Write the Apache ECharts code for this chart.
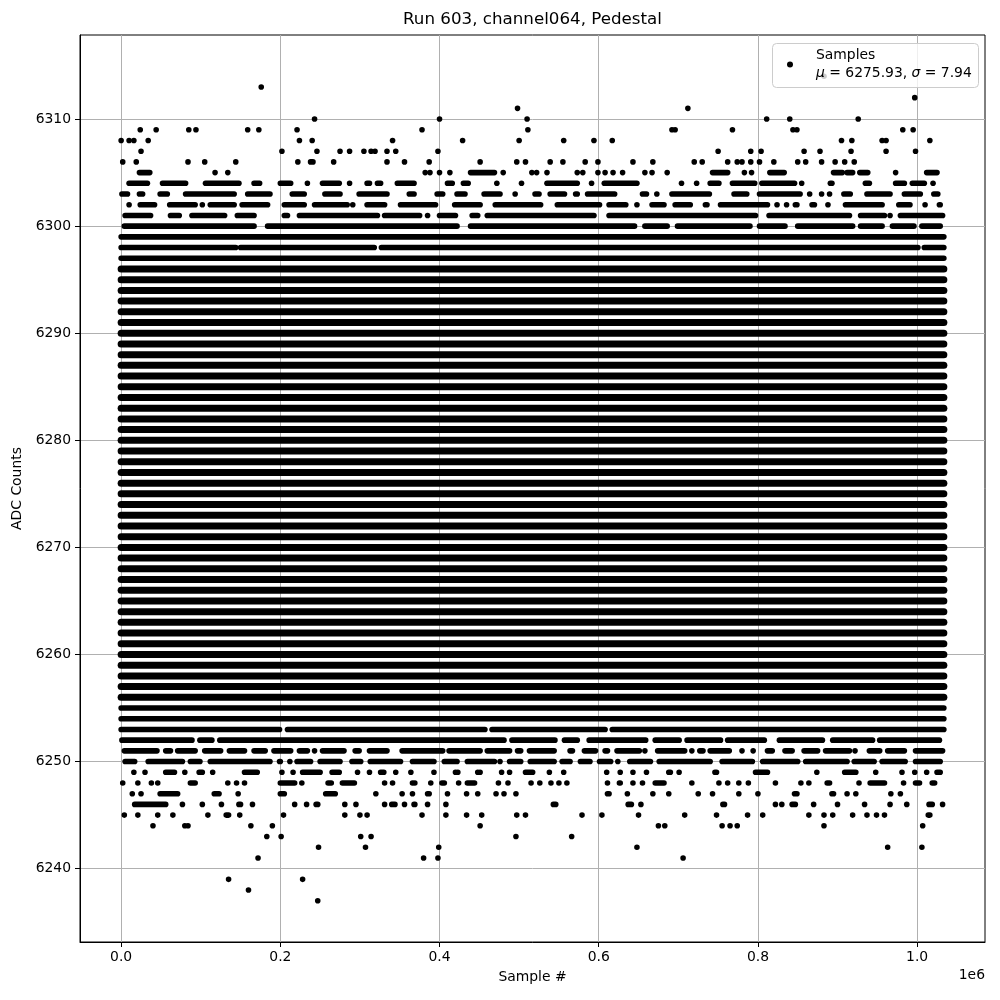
<!DOCTYPE html>
<html><head><meta charset="utf-8">
<script src="https://cdn.jsdelivr.net/npm/echarts@6/dist/echarts.min.js"></script>
<style>html,body{margin:0;padding:0;background:#fff}#c{width:1000px;height:1000px}</style>
</head><body><div id="c"></div>
<script>
const chartTitle = 'Run 603, channel064, Pedestal';
const xName = 'Sample #';
const yName = 'ADC Counts';
const legendName = 'Samples';
const meanText = '6275.93';
const sigmaText = '7.94';
const sampleEndK = 1033.6;            // last sample index, thousands
const xTicks = [0, 200000, 400000, 600000, 800000, 1000000];
const yTicks = [6240, 6250, 6260, 6270, 6280, 6290, 6300, 6310];
const xRange = [-51680, 1085280];
const yRange = [6233.15, 6317.85];

// ADC values whose row is filled across the whole run
const fullRows = [6254,6255,6256,6257,6258,6259,6260,6261,6262,6263,6264,6265,6266,6267,6268,6269,6270,6271,6272,6273,6274,6275,6276,6277,6278,6279,6280,6281,6282,6283,6284,6285,6286,6287,6288,6289,6290,6291,6292,6293,6294,6295,6296,6297,6299];

// per-row runs of samples [first, last] in thousands of samples
const r6314 = [[883,883]];
const r6313 = [[176,176]];
const r6312 = [[997,997]];
const r6311 = [[498,498],[712,712]];
const r6310 = [[243,243],[400,400],[510,510],[811,811],[840,840],[926,926]];
const r6309 = [[24,24],[44,44],[85,85],[94,94],[159,159],[173,173],[221,221],[378,378],[511,511],[692,692],[696,696],[768,768],[844,844],[849,849],[982,982],[995,995]];
const r6308 = [[0,0],[10,10],[16,16],[34,34],[224,224],[240,240],[341,341],[429,429],[500,500],[556,556],[594,594],[617,617],[905,905],[918,918],[956,956],[961,961],[1016,1016]];
const r6307 = [[25,25],[202,202],[246,246],[275,275],[287,287],[305,305],[314,314],[319,319],[334,334],[345,345],[398,398],[750,750],[791,791],[804,804],[858,858],[878,878],[917,917],[961,961],[998,998]];
const r6306 = [[2,2],[19,19],[84,84],[105,105],[144,144],[222,222],[238,241],[267,267],[334,334],[356,356],[387,387],[451,451],[497,497],[508,508],[539,539],[555,555],[583,583],[599,599],[643,643],[668,668],[720,720],[730,730],[762,762],[774,774],[780,780],[791,791],[802,802],[820,820],[850,850],[860,860],[880,880],[897,897],[909,909],[921,921]];
const r6305 = [[23,36],[118,118],[134,134],[382,382],[388,388],[400,400],[413,413],[439,469],[480,480],[516,516],[522,522],[535,535],[573,573],[580,580],[599,599],[608,608],[618,618],[630,630],[658,658],[667,667],[686,686],[743,762],[783,783],[792,792],[815,833],[895,906],[912,919],[928,938],[973,973],[1012,1025]];
const r6304 = [[10,33],[52,81],[106,148],[167,174],[200,213],[234,234],[253,274],[287,287],[309,312],[322,326],[347,368],[410,416],[430,436],[472,472],[503,503],[535,573],[591,591],[607,648],[704,704],[723,723],[740,751],[768,796],[805,846],[855,855],[891,893],[935,940],[973,984],[994,1009],[1020,1020]];
const r6303 = [[1,8],[23,27],[49,58],[81,142],[159,187],[215,230],[256,275],[299,334],[362,368],[397,404],[422,432],[456,476],[495,495],[520,525],[539,557],[571,573],[586,620],[655,660],[673,673],[692,739],[770,786],[802,853],[865,865],[880,880],[890,890],[908,916],[937,966],[984,1004],[1021,1026]];
const r6302 = [[10,10],[24,42],[61,93],[102,102],[112,142],[152,184],[205,230],[243,284],[291,291],[309,331],[351,395],[419,451],[470,527],[548,601],[613,634],[648,648],[667,682],[696,715],[734,736],[753,812],[824,824],[836,836],[847,849],[868,871],[888,888],[910,956],[977,991],[1010,1010],[1028,1029]];
const r6301 = [[5,37],[62,73],[89,130],[146,167],[205,209],[224,322],[331,375],[385,385],[400,420],[441,448],[460,594],[613,797],[814,915],[929,959],[966,966],[979,1032]];
const r6300 = [[4,167],[184,422],[439,645],[658,686],[699,790],[802,834],[850,919],[929,956],[969,996],[1006,1029]];
const r6298 = [[0,144],[150,318],[327,1001],[1009,1033.6]];
const r6253 = [[0,199],[209,457],[466,608],[617,1033.6]];
const r6252 = [[1,89],[99,114],[124,481],[491,545],[557,573],[588,659],[671,701],[711,753],[762,808],[827,881],[894,944],[953,1028]];
const r6251 = [[4,45],[56,62],[71,93],[105,125],[136,155],[167,181],[192,213],[224,234],[243,243],[253,280],[294,299],[312,334],[353,404],[412,451],[460,488],[498,502],[513,544],[564,567],[582,596],[608,611],[623,651],[658,658],[674,708],[717,717],[727,731],[740,764],[780,780],[794,794],[812,818],[834,843],[858,875],[885,915],[922,922],[940,953],[963,984],[998,1032]];
const r6250 = [[5,17],[34,77],[87,99],[112,187],[199,200],[212,212],[221,238],[250,275],[290,301],[313,351],[366,393],[406,422],[435,469],[476,476],[488,502],[514,544],[554,564],[577,589],[601,615],[624,624],[639,665],[676,740],[755,793],[806,850],[860,912],[921,946],[956,985],[998,1029]];
const r6249 = [[16,16],[30,30],[56,67],[80,80],[98,102],[115,115],[155,171],[202,202],[216,216],[228,250],[265,274],[297,297],[312,312],[326,330],[345,345],[364,364],[393,393],[420,420],[423,423],[448,448],[451,451],[478,478],[488,488],[508,517],[538,538],[556,556],[610,610],[627,627],[643,643],[660,660],[688,690],[701,701],[746,748],[797,812],[874,874],[909,923],[948,948],[981,981],[997,997],[1012,1012],[1025,1029]];
const r6248 = [[2,2],[21,21],[38,38],[46,46],[87,93],[134,134],[145,145],[155,155],[200,218],[227,227],[260,264],[278,293],[331,331],[341,341],[366,366],[369,369],[389,389],[403,406],[424,424],[435,444],[474,474],[486,486],[515,515],[526,526],[540,540],[550,550],[560,560],[611,611],[626,627],[643,643],[655,655],[671,682],[717,717],[751,751],[762,762],[776,776],[788,788],[822,822],[854,854],[864,864],[887,890],[927,927],[941,959],[983,983],[998,1003],[1019,1022]];
const r6247 = [[14,14],[25,25],[49,71],[117,123],[147,147],[200,205],[257,269],[320,320],[353,353],[366,366],[385,387],[410,410],[434,434],[448,448],[471,471],[481,481],[496,496],[611,613],[636,636],[668,668],[688,688],[725,725],[743,743],[776,776],[800,800],[846,849],[893,895],[912,912],[923,923],[967,967],[979,979]];
const r6246 = [[17,56],[77,77],[102,102],[126,126],[148,150],[165,165],[218,218],[233,233],[245,247],[281,281],[295,295],[331,331],[340,344],[356,356],[368,369],[385,385],[408,408],[543,546],[637,641],[653,653],[756,758],[822,822],[830,830],[843,847],[870,870],[900,900],[934,934],[966,966],[987,987],[1015,1019],[1032,1032]];
const r6245 = [[4,4],[21,21],[46,46],[65,65],[109,109],[132,135],[149,149],[204,204],[281,281],[300,300],[309,309],[378,378],[408,408],[434,434],[453,453],[497,497],[508,508],[579,579],[604,604],[650,650],[708,708],[748,748],[787,787],[806,806],[864,864],[883,883],[894,894],[919,919],[937,937],[949,949],[959,959],[1014,1016]];
const r6244 = [[40,40],[80,80],[84,84],[163,163],[190,190],[451,451],[675,675],[683,683],[755,755],[765,765],[774,774],[883,883],[1007,1007]];
const r6243 = [[183,183],[201,201],[301,301],[314,314],[496,496],[566,566]];
const r6242 = [[248,248],[307,307],[399,399],[648,648],[963,963],[1006,1006]];
const r6241 = [[172,172],[380,380],[398,398],[706,706]];
const r6239 = [[135,135],[228,228]];
const r6238 = [[160,160]];
const r6237 = [[247,247]];

const partialRows = [
  [6314, r6314],[6313, r6313],[6312, r6312],[6311, r6311],[6310, r6310],[6309, r6309],
  [6308, r6308],[6307, r6307],[6306, r6306],[6305, r6305],[6304, r6304],[6303, r6303],
  [6302, r6302],[6301, r6301],[6300, r6300],[6298, r6298],[6253, r6253],[6252, r6252],
  [6251, r6251],[6250, r6250],[6249, r6249],[6248, r6248],[6247, r6247],[6246, r6246],
  [6245, r6245],[6244, r6244],[6243, r6243],[6242, r6242],[6241, r6241],[6239, r6239],
  [6238, r6238],[6237, r6237]
];

const data = [];
fullRows.forEach(v => data.push([0, sampleEndK * 1000, v]));
partialRows.forEach(([v, runs]) => runs.forEach(r => data.push([r[0] * 1000, r[1] * 1000, v])));

const FONT = 'DejaVu Sans';
const thickLo = 6256, thickHi = 6296;

const chart = echarts.init(document.getElementById('c'), null, {renderer: 'canvas'});
chart.setOption({
  animation: false,
  backgroundColor: '#fff',
  title: {
    text: chartTitle, left: 403, top: 11, padding: 0,
    textStyle: {fontFamily: FONT, fontSize: 16.7, fontWeight: 'normal', color: '#000'}
  },
  legend: {
    left: 787, top: 47, orient: 'vertical', padding: 0,
    data: [{name: legendName, icon: 'circle'}],
    itemWidth: 42, itemHeight: 6,
    formatter: () => legendName + '\n{i|μ} = ' + meanText + ', {i|σ} = ' + sigmaText,
    textStyle: {
      fontFamily: FONT, fontSize: 13.9, color: '#000', lineHeight: 17.5,
      rich: {i: {fontFamily: FONT, fontSize: 13.9, fontStyle: 'italic', color: '#000', lineHeight: 17.5}}
    },
    backgroundColor: 'transparent', borderWidth: 0
  },
  grid: {left: 80, top: 35, width: 905, height: 907, show: true, borderColor: '#000', borderWidth: 1, backgroundColor: 'transparent'},
  xAxis: {
    type: 'value', min: xRange[0], max: xRange[1],
    name: xName, nameLocation: 'middle', nameGap: 28,
    nameTextStyle: {fontFamily: FONT, fontSize: 13.9, color: '#000'},
    axisLine: {show: true, onZero: false, lineStyle: {color: '#000', width: 1}},
    axisTick: {show: true, length: 5, customValues: xTicks, lineStyle: {color: '#000', width: 1}},
    axisLabel: {customValues: xTicks, formatter: v => (v / 1e6).toFixed(1), margin: 8,
      fontFamily: FONT, fontSize: 13.9, color: '#000'},
    splitLine: {show: true, lineStyle: {color: '#b0b0b0', width: 1}}
  },
  yAxis: {
    type: 'value', min: yRange[0], max: yRange[1],
    name: yName, nameLocation: 'middle', nameGap: 48,
    nameTextStyle: {fontFamily: FONT, fontSize: 13.9, color: '#000'},
    axisLine: {show: true, onZero: false, lineStyle: {color: '#000', width: 1}},
    axisTick: {show: true, length: 5, customValues: yTicks, lineStyle: {color: '#000', width: 1}},
    axisLabel: {customValues: yTicks, formatter: v => String(v), margin: 9,
      fontFamily: FONT, fontSize: 13.9, color: '#000'},
    splitLine: {show: true, lineStyle: {color: '#b0b0b0', width: 1}}
  },
  graphic: [
    {
      type: 'rect', z: 3, left: 772, top: 43,
      shape: {width: 206, height: 44, r: 4},
      style: {fill: 'rgba(255,255,255,0.8)', stroke: '#cccccc', lineWidth: 1}
    },
    {
      type: 'text', right: 15, top: 968,
      style: {text: '1e6', fontFamily: FONT, fontSize: 13.9, fill: '#000'}
    }
  ],
  series: [{
    type: 'custom', name: legendName, clip: true,
    itemStyle: {color: '#000'},
    encode: {x: [0, 1], y: 2},
    data: data,
    renderItem: (params, api) => {
      const v = api.value(2);
      const p0 = api.coord([api.value(0), v]);
      const p1 = api.coord([api.value(1), v]);
      const h = (v >= thickLo && v <= thickHi) ? 7 : 5.6;
      return {
        type: 'rect',
        shape: {x: p0[0] - h / 2, y: p0[1] - h / 2, width: p1[0] - p0[0] + h, height: h, r: h / 2},
        style: {fill: '#000'}
      };
    }
  }]
});
</script></body></html>
